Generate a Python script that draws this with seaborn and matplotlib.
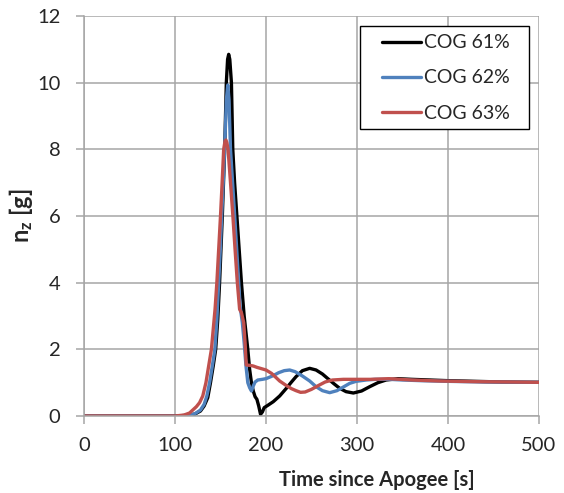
import matplotlib
matplotlib.use("Agg")
import matplotlib.pyplot as plt
import numpy as np
import pandas as pd
import seaborn as sns
from matplotlib.patches import Rectangle

sns.set_style("white")
plt.rcParams['font.family'] = ['Lato', 'DejaVu Sans']
plt.rcParams['mathtext.fontset'] = 'custom'
plt.rcParams['mathtext.bf'] = 'Lato:bold'
plt.rcParams['mathtext.rm'] = 'Lato'

# values
t_61 = [0, 100, 115, 122, 128, 132, 136, 139, 142, 144.7, 147, 149, 150.5, 152, 153.3, 154.6,
        156.4, 157.8, 159, 160.2, 162, 163.5, 165.5, 168, 170.5, 173, 176, 180, 182, 184, 186,
        188, 190, 192, 194, 196, 198, 202, 208, 215, 222, 228, 233, 240, 248, 255, 262, 268,
        275, 281, 288, 296, 305, 314, 323, 332, 345, 360, 380, 400, 430, 460, 500]
nz_61 = [0, 0, 0.02, 0.06, 0.15, 0.3, 0.55, 1.0, 1.5, 2.0, 2.9, 4.0, 5.0, 6.0, 7.0, 8.0,
         10.0, 10.7, 10.85, 10.7, 10.0, 8.0, 7.0, 6.0, 5.0, 4.0, 3.0, 2.0, 1.4, 1.0, 0.75,
         0.58, 0.5, 0.3, 0.05, 0.12, 0.25, 0.32, 0.43, 0.6, 0.82, 1.02, 1.18, 1.36, 1.43, 1.38,
         1.26, 1.12, 0.96, 0.83, 0.73, 0.69, 0.75, 0.88, 1.0, 1.08, 1.12, 1.1, 1.08, 1.06,
         1.04, 1.02, 1.01]

t_62 = [0, 100, 115, 122, 128, 132, 135, 138, 141, 143.8, 146, 148, 149.8, 151.3, 153, 154.5,
        156.5, 158, 159.3, 161, 163.3, 165.6, 167.8, 170, 171.5, 174, 176, 178, 180, 182, 184,
        186, 188, 191, 196, 200, 207, 214, 220, 226, 232, 240, 248, 255, 262, 270, 278, 285,
        292, 299, 310, 320, 335, 350, 370, 400, 440, 500]
nz_62 = [0, 0, 0.02, 0.07, 0.18, 0.35, 0.6, 1.0, 1.5, 2.0, 2.9, 4.0, 5.0, 6.0, 7.0, 8.0,
         9.5, 9.93, 9.5, 8.0, 7.0, 6.0, 5.0, 4.0, 3.3, 2.8, 2.2, 1.5, 1.0, 0.85, 0.75,
         0.9, 1.02, 1.08, 1.1, 1.12, 1.2, 1.3, 1.36, 1.38, 1.33, 1.2, 1.05, 0.88, 0.76, 0.7,
         0.76, 0.87, 0.98, 1.04, 1.08, 1.1, 1.1, 1.08, 1.06, 1.04, 1.02, 1.01]

t_63 = [0, 100, 110, 116, 123.5, 127, 130.5, 134, 137, 140, 142, 144, 146, 148, 150, 151.8,
        153.5, 155, 156, 157, 158.3, 161, 163.6, 166, 168.5, 171, 173, 175.5, 177, 178.3, 182,
        186, 190, 195, 200, 206, 210, 215, 222, 228, 233, 238, 243, 250, 258, 265, 273, 285,
        300, 315, 335, 360, 390, 430, 470, 500]
nz_63 = [0, 0, 0.03, 0.09, 0.28, 0.4, 0.6, 1.0, 1.5, 2.0, 2.6, 3.2, 4.0, 5.0, 6.0, 7.0,
         8.0, 8.25, 8.28, 8.2, 8.0, 7.0, 6.0, 5.0, 4.0, 3.2, 3.1, 2.8, 2.2, 1.53, 1.52,
         1.5, 1.46, 1.42, 1.38, 1.28, 1.18, 1.05, 0.92, 0.82, 0.76, 0.71, 0.72, 0.8, 0.92,
         1.02, 1.08, 1.1, 1.1, 1.1, 1.12, 1.08, 1.05, 1.03, 1.02, 1.01]

labels = ['COG 61%', 'COG 62%', 'COG 63%']
colors = ['#000000', '#4f81bd', '#c0504d']

df = pd.concat([
    pd.DataFrame({'t': t_61, 'nz': nz_61, 'case': labels[0]}),
    pd.DataFrame({'t': t_62, 'nz': nz_62, 'case': labels[1]}),
    pd.DataFrame({'t': t_63, 'nz': nz_63, 'case': labels[2]}),
])

fig = plt.figure(figsize=(5.64, 4.93), dpi=100)
ax = fig.add_axes([84 / 564, 1 - 416 / 493, 455 / 564, 400 / 493])

for lab, col in zip(labels, colors):
    sns.lineplot(data=df[df.case == lab], x='t', y='nz', color=col, lw=2.4,
                 label=lab, ax=ax, estimator=None, sort=False)

ax.set_xlim(0, 500)
ax.set_ylim(0, 12)
ax.set_xticks(np.arange(0, 501, 100))
ax.set_yticks(np.arange(0, 13, 2))
ax.grid(True, color='#a6a6a6', lw=1.1)
ax.set_axisbelow(True)
for s in ['top', 'right']:
    ax.spines[s].set_visible(False)
for s in ['left', 'bottom']:
    ax.spines[s].set_color('#a6a6a6')
    ax.spines[s].set_linewidth(1.1)
ax.tick_params(axis='x', direction='out', length=6, width=1.1, color='#a6a6a6',
               labelsize=14.5, pad=9, bottom=True)
ax.tick_params(axis='y', direction='out', length=6, width=1.1, color='#a6a6a6',
               labelsize=14.5, pad=11, left=True)

ax.set_xlabel('Time since Apogee [s]', fontsize=14.5, fontweight='bold')
ax.xaxis.set_label_coords(0.644, -0.135)
ax.set_ylabel(r'$\mathbf{n_z}$ [g]', fontsize=17, fontweight='bold')
ax.yaxis.set_label_coords(-0.108, 0.5)

# Excel-like legend box: square corners, wide side padding
box = Rectangle((0.607, 0.7175), 0.371, 0.2575, transform=ax.transAxes,
                facecolor='white', edgecolor='black', lw=1.0, zorder=4)
ax.add_patch(box)
leg = ax.legend(loc='center left', bbox_to_anchor=(0.655, 0.845), fontsize=14,
                frameon=False, handlelength=2.0, handletextpad=0.15,
                labelspacing=0.93, borderpad=0, borderaxespad=0)
leg.set_zorder(5)

fig.savefig('out.png', dpi=100)
